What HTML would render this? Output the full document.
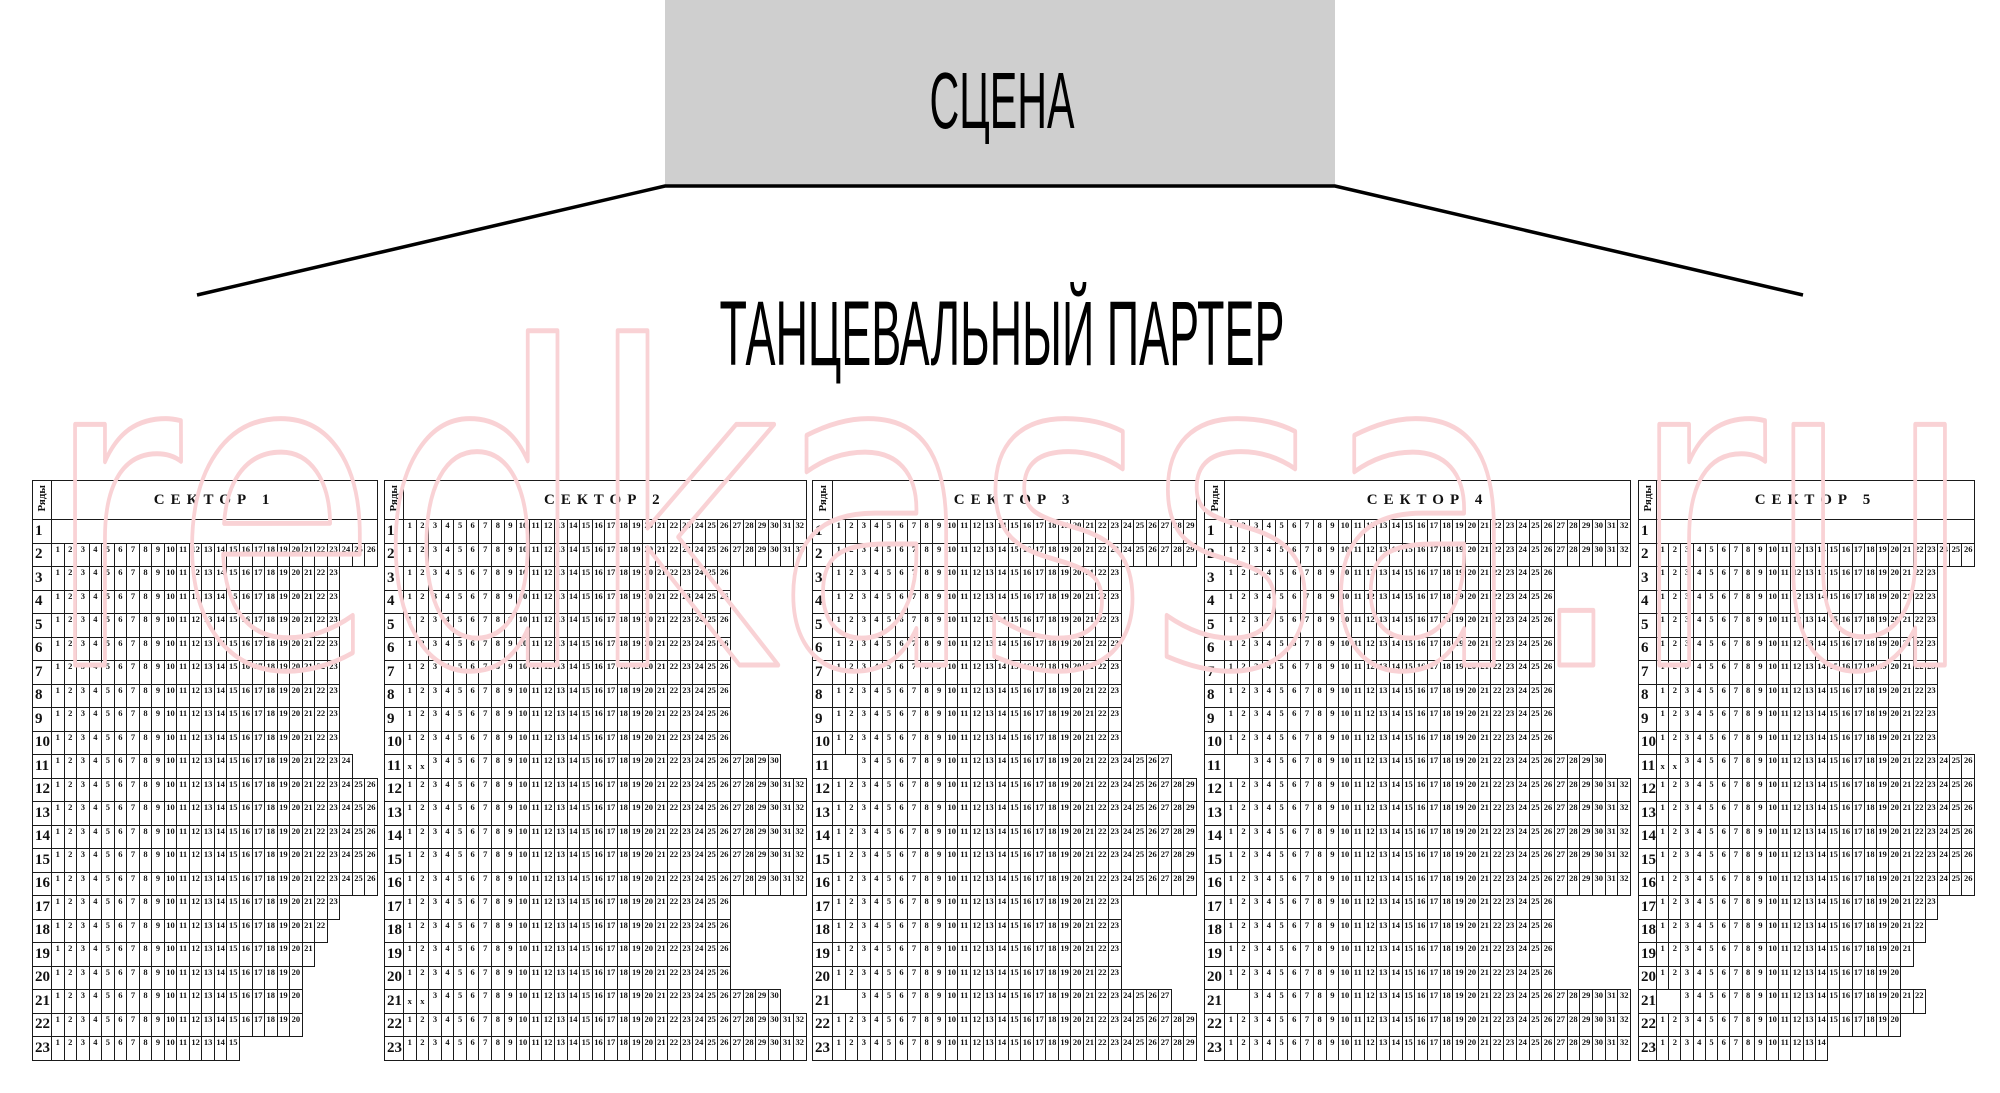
<!DOCTYPE html>
<html><head><meta charset="utf-8">
<style>
html,body{margin:0;padding:0;background:#fff;width:2000px;height:1093px;overflow:hidden;position:relative}
.s{position:absolute;top:480px}
table{border-collapse:collapse;table-layout:fixed;font-family:"Liberation Serif",serif}
td,th{border:1px solid #1a1a1a;padding:0;margin:0;overflow:hidden}
tr{height:23.5px}
tr.h{height:39px}
td{font-size:8.5px;font-weight:bold;text-align:center;vertical-align:top;line-height:10px;color:#111}
th{font-size:15px;font-weight:bold;text-align:left;padding-left:2px;vertical-align:middle;color:#111}
th.v{font-size:11px;font-weight:bold;padding:0;text-align:center}
th.v span{display:inline-block;writing-mode:vertical-rl;transform:rotate(180deg)}
th.t{text-align:center;font-size:15px;letter-spacing:6px;padding:0}
td.x{vertical-align:middle}
svg{position:absolute;left:0;top:0}
</style></head><body>
<svg width="2000" height="480" style="z-index:0">
<rect x="665" y="0" width="670" height="186" fill="#cfcfcf"/>
<polyline points="197,295 665,186 1335,186 1803,295" fill="none" stroke="#000" stroke-width="3.5"/>
<text x="1002" y="128" font-family="Liberation Sans Narrow, Liberation Sans, sans-serif" font-size="80" text-anchor="middle" textLength="145" lengthAdjust="spacingAndGlyphs">СЦЕНА</text>
<text x="1002" y="365" font-family="Liberation Sans Narrow, Liberation Sans, sans-serif" font-size="92" text-anchor="middle" textLength="565" lengthAdjust="spacingAndGlyphs">ТАНЦЕВАЛЬНЫЙ ПАРТЕР</text>
</svg>

<div class="s" style="left:32px"><table style="width:345px"><col style="width:19px"><col span="26" style="width:12.54px">
<tr class="h"><th class="v"><span>Ряды</span><th class="t" colspan="26">СЕКТОР 1
<tr><th>1<td colspan="26">
<tr><th>2<td>1<td>2<td>3<td>4<td>5<td>6<td>7<td>8<td>9<td>10<td>11<td>12<td>13<td>14<td>15<td>16<td>17<td>18<td>19<td>20<td>21<td>22<td>23<td>24<td>25<td>26
<tr><th>3<td>1<td>2<td>3<td>4<td>5<td>6<td>7<td>8<td>9<td>10<td>11<td>12<td>13<td>14<td>15<td>16<td>17<td>18<td>19<td>20<td>21<td>22<td>23
<tr><th>4<td>1<td>2<td>3<td>4<td>5<td>6<td>7<td>8<td>9<td>10<td>11<td>12<td>13<td>14<td>15<td>16<td>17<td>18<td>19<td>20<td>21<td>22<td>23
<tr><th>5<td>1<td>2<td>3<td>4<td>5<td>6<td>7<td>8<td>9<td>10<td>11<td>12<td>13<td>14<td>15<td>16<td>17<td>18<td>19<td>20<td>21<td>22<td>23
<tr><th>6<td>1<td>2<td>3<td>4<td>5<td>6<td>7<td>8<td>9<td>10<td>11<td>12<td>13<td>14<td>15<td>16<td>17<td>18<td>19<td>20<td>21<td>22<td>23
<tr><th>7<td>1<td>2<td>3<td>4<td>5<td>6<td>7<td>8<td>9<td>10<td>11<td>12<td>13<td>14<td>15<td>16<td>17<td>18<td>19<td>20<td>21<td>22<td>23
<tr><th>8<td>1<td>2<td>3<td>4<td>5<td>6<td>7<td>8<td>9<td>10<td>11<td>12<td>13<td>14<td>15<td>16<td>17<td>18<td>19<td>20<td>21<td>22<td>23
<tr><th>9<td>1<td>2<td>3<td>4<td>5<td>6<td>7<td>8<td>9<td>10<td>11<td>12<td>13<td>14<td>15<td>16<td>17<td>18<td>19<td>20<td>21<td>22<td>23
<tr><th>10<td>1<td>2<td>3<td>4<td>5<td>6<td>7<td>8<td>9<td>10<td>11<td>12<td>13<td>14<td>15<td>16<td>17<td>18<td>19<td>20<td>21<td>22<td>23
<tr><th>11<td>1<td>2<td>3<td>4<td>5<td>6<td>7<td>8<td>9<td>10<td>11<td>12<td>13<td>14<td>15<td>16<td>17<td>18<td>19<td>20<td>21<td>22<td>23<td>24
<tr><th>12<td>1<td>2<td>3<td>4<td>5<td>6<td>7<td>8<td>9<td>10<td>11<td>12<td>13<td>14<td>15<td>16<td>17<td>18<td>19<td>20<td>21<td>22<td>23<td>24<td>25<td>26
<tr><th>13<td>1<td>2<td>3<td>4<td>5<td>6<td>7<td>8<td>9<td>10<td>11<td>12<td>13<td>14<td>15<td>16<td>17<td>18<td>19<td>20<td>21<td>22<td>23<td>24<td>25<td>26
<tr><th>14<td>1<td>2<td>3<td>4<td>5<td>6<td>7<td>8<td>9<td>10<td>11<td>12<td>13<td>14<td>15<td>16<td>17<td>18<td>19<td>20<td>21<td>22<td>23<td>24<td>25<td>26
<tr><th>15<td>1<td>2<td>3<td>4<td>5<td>6<td>7<td>8<td>9<td>10<td>11<td>12<td>13<td>14<td>15<td>16<td>17<td>18<td>19<td>20<td>21<td>22<td>23<td>24<td>25<td>26
<tr><th>16<td>1<td>2<td>3<td>4<td>5<td>6<td>7<td>8<td>9<td>10<td>11<td>12<td>13<td>14<td>15<td>16<td>17<td>18<td>19<td>20<td>21<td>22<td>23<td>24<td>25<td>26
<tr><th>17<td>1<td>2<td>3<td>4<td>5<td>6<td>7<td>8<td>9<td>10<td>11<td>12<td>13<td>14<td>15<td>16<td>17<td>18<td>19<td>20<td>21<td>22<td>23
<tr><th>18<td>1<td>2<td>3<td>4<td>5<td>6<td>7<td>8<td>9<td>10<td>11<td>12<td>13<td>14<td>15<td>16<td>17<td>18<td>19<td>20<td>21<td>22
<tr><th>19<td>1<td>2<td>3<td>4<td>5<td>6<td>7<td>8<td>9<td>10<td>11<td>12<td>13<td>14<td>15<td>16<td>17<td>18<td>19<td>20<td>21
<tr><th>20<td>1<td>2<td>3<td>4<td>5<td>6<td>7<td>8<td>9<td>10<td>11<td>12<td>13<td>14<td>15<td>16<td>17<td>18<td>19<td>20
<tr><th>21<td>1<td>2<td>3<td>4<td>5<td>6<td>7<td>8<td>9<td>10<td>11<td>12<td>13<td>14<td>15<td>16<td>17<td>18<td>19<td>20
<tr><th>22<td>1<td>2<td>3<td>4<td>5<td>6<td>7<td>8<td>9<td>10<td>11<td>12<td>13<td>14<td>15<td>16<td>17<td>18<td>19<td>20
<tr><th>23<td>1<td>2<td>3<td>4<td>5<td>6<td>7<td>8<td>9<td>10<td>11<td>12<td>13<td>14<td>15
</table></div>

<div class="s" style="left:384px"><table style="width:422px"><col style="width:19px"><col span="32" style="width:12.59px">
<tr class="h"><th class="v"><span>Ряды</span><th class="t" colspan="32">СЕКТОР 2
<tr><th>1<td>1<td>2<td>3<td>4<td>5<td>6<td>7<td>8<td>9<td>10<td>11<td>12<td>13<td>14<td>15<td>16<td>17<td>18<td>19<td>20<td>21<td>22<td>23<td>24<td>25<td>26<td>27<td>28<td>29<td>30<td>31<td>32
<tr><th>2<td>1<td>2<td>3<td>4<td>5<td>6<td>7<td>8<td>9<td>10<td>11<td>12<td>13<td>14<td>15<td>16<td>17<td>18<td>19<td>20<td>21<td>22<td>23<td>24<td>25<td>26<td>27<td>28<td>29<td>30<td>31<td>32
<tr><th>3<td>1<td>2<td>3<td>4<td>5<td>6<td>7<td>8<td>9<td>10<td>11<td>12<td>13<td>14<td>15<td>16<td>17<td>18<td>19<td>20<td>21<td>22<td>23<td>24<td>25<td>26
<tr><th>4<td>1<td>2<td>3<td>4<td>5<td>6<td>7<td>8<td>9<td>10<td>11<td>12<td>13<td>14<td>15<td>16<td>17<td>18<td>19<td>20<td>21<td>22<td>23<td>24<td>25<td>26
<tr><th>5<td>1<td>2<td>3<td>4<td>5<td>6<td>7<td>8<td>9<td>10<td>11<td>12<td>13<td>14<td>15<td>16<td>17<td>18<td>19<td>20<td>21<td>22<td>23<td>24<td>25<td>26
<tr><th>6<td>1<td>2<td>3<td>4<td>5<td>6<td>7<td>8<td>9<td>10<td>11<td>12<td>13<td>14<td>15<td>16<td>17<td>18<td>19<td>20<td>21<td>22<td>23<td>24<td>25<td>26
<tr><th>7<td>1<td>2<td>3<td>4<td>5<td>6<td>7<td>8<td>9<td>10<td>11<td>12<td>13<td>14<td>15<td>16<td>17<td>18<td>19<td>20<td>21<td>22<td>23<td>24<td>25<td>26
<tr><th>8<td>1<td>2<td>3<td>4<td>5<td>6<td>7<td>8<td>9<td>10<td>11<td>12<td>13<td>14<td>15<td>16<td>17<td>18<td>19<td>20<td>21<td>22<td>23<td>24<td>25<td>26
<tr><th>9<td>1<td>2<td>3<td>4<td>5<td>6<td>7<td>8<td>9<td>10<td>11<td>12<td>13<td>14<td>15<td>16<td>17<td>18<td>19<td>20<td>21<td>22<td>23<td>24<td>25<td>26
<tr><th>10<td>1<td>2<td>3<td>4<td>5<td>6<td>7<td>8<td>9<td>10<td>11<td>12<td>13<td>14<td>15<td>16<td>17<td>18<td>19<td>20<td>21<td>22<td>23<td>24<td>25<td>26
<tr><th>11<td class="x">x<td class="x">x<td>3<td>4<td>5<td>6<td>7<td>8<td>9<td>10<td>11<td>12<td>13<td>14<td>15<td>16<td>17<td>18<td>19<td>20<td>21<td>22<td>23<td>24<td>25<td>26<td>27<td>28<td>29<td>30
<tr><th>12<td>1<td>2<td>3<td>4<td>5<td>6<td>7<td>8<td>9<td>10<td>11<td>12<td>13<td>14<td>15<td>16<td>17<td>18<td>19<td>20<td>21<td>22<td>23<td>24<td>25<td>26<td>27<td>28<td>29<td>30<td>31<td>32
<tr><th>13<td>1<td>2<td>3<td>4<td>5<td>6<td>7<td>8<td>9<td>10<td>11<td>12<td>13<td>14<td>15<td>16<td>17<td>18<td>19<td>20<td>21<td>22<td>23<td>24<td>25<td>26<td>27<td>28<td>29<td>30<td>31<td>32
<tr><th>14<td>1<td>2<td>3<td>4<td>5<td>6<td>7<td>8<td>9<td>10<td>11<td>12<td>13<td>14<td>15<td>16<td>17<td>18<td>19<td>20<td>21<td>22<td>23<td>24<td>25<td>26<td>27<td>28<td>29<td>30<td>31<td>32
<tr><th>15<td>1<td>2<td>3<td>4<td>5<td>6<td>7<td>8<td>9<td>10<td>11<td>12<td>13<td>14<td>15<td>16<td>17<td>18<td>19<td>20<td>21<td>22<td>23<td>24<td>25<td>26<td>27<td>28<td>29<td>30<td>31<td>32
<tr><th>16<td>1<td>2<td>3<td>4<td>5<td>6<td>7<td>8<td>9<td>10<td>11<td>12<td>13<td>14<td>15<td>16<td>17<td>18<td>19<td>20<td>21<td>22<td>23<td>24<td>25<td>26<td>27<td>28<td>29<td>30<td>31<td>32
<tr><th>17<td>1<td>2<td>3<td>4<td>5<td>6<td>7<td>8<td>9<td>10<td>11<td>12<td>13<td>14<td>15<td>16<td>17<td>18<td>19<td>20<td>21<td>22<td>23<td>24<td>25<td>26
<tr><th>18<td>1<td>2<td>3<td>4<td>5<td>6<td>7<td>8<td>9<td>10<td>11<td>12<td>13<td>14<td>15<td>16<td>17<td>18<td>19<td>20<td>21<td>22<td>23<td>24<td>25<td>26
<tr><th>19<td>1<td>2<td>3<td>4<td>5<td>6<td>7<td>8<td>9<td>10<td>11<td>12<td>13<td>14<td>15<td>16<td>17<td>18<td>19<td>20<td>21<td>22<td>23<td>24<td>25<td>26
<tr><th>20<td>1<td>2<td>3<td>4<td>5<td>6<td>7<td>8<td>9<td>10<td>11<td>12<td>13<td>14<td>15<td>16<td>17<td>18<td>19<td>20<td>21<td>22<td>23<td>24<td>25<td>26
<tr><th>21<td class="x">x<td class="x">x<td>3<td>4<td>5<td>6<td>7<td>8<td>9<td>10<td>11<td>12<td>13<td>14<td>15<td>16<td>17<td>18<td>19<td>20<td>21<td>22<td>23<td>24<td>25<td>26<td>27<td>28<td>29<td>30
<tr><th>22<td>1<td>2<td>3<td>4<td>5<td>6<td>7<td>8<td>9<td>10<td>11<td>12<td>13<td>14<td>15<td>16<td>17<td>18<td>19<td>20<td>21<td>22<td>23<td>24<td>25<td>26<td>27<td>28<td>29<td>30<td>31<td>32
<tr><th>23<td>1<td>2<td>3<td>4<td>5<td>6<td>7<td>8<td>9<td>10<td>11<td>12<td>13<td>14<td>15<td>16<td>17<td>18<td>19<td>20<td>21<td>22<td>23<td>24<td>25<td>26<td>27<td>28<td>29<td>30<td>31<td>32
</table></div>

<div class="s" style="left:812px"><table style="width:384px"><col style="width:20px"><col span="29" style="width:12.55px">
<tr class="h"><th class="v"><span>Ряды</span><th class="t" colspan="29">СЕКТОР 3
<tr><th>1<td>1<td>2<td>3<td>4<td>5<td>6<td>7<td>8<td>9<td>10<td>11<td>12<td>13<td>14<td>15<td>16<td>17<td>18<td>19<td>20<td>21<td>22<td>23<td>24<td>25<td>26<td>27<td>28<td>29
<tr><th>2<td>1<td>2<td>3<td>4<td>5<td>6<td>7<td>8<td>9<td>10<td>11<td>12<td>13<td>14<td>15<td>16<td>17<td>18<td>19<td>20<td>21<td>22<td>23<td>24<td>25<td>26<td>27<td>28<td>29
<tr><th>3<td>1<td>2<td>3<td>4<td>5<td>6<td>7<td>8<td>9<td>10<td>11<td>12<td>13<td>14<td>15<td>16<td>17<td>18<td>19<td>20<td>21<td>22<td>23
<tr><th>4<td>1<td>2<td>3<td>4<td>5<td>6<td>7<td>8<td>9<td>10<td>11<td>12<td>13<td>14<td>15<td>16<td>17<td>18<td>19<td>20<td>21<td>22<td>23
<tr><th>5<td>1<td>2<td>3<td>4<td>5<td>6<td>7<td>8<td>9<td>10<td>11<td>12<td>13<td>14<td>15<td>16<td>17<td>18<td>19<td>20<td>21<td>22<td>23
<tr><th>6<td>1<td>2<td>3<td>4<td>5<td>6<td>7<td>8<td>9<td>10<td>11<td>12<td>13<td>14<td>15<td>16<td>17<td>18<td>19<td>20<td>21<td>22<td>23
<tr><th>7<td>1<td>2<td>3<td>4<td>5<td>6<td>7<td>8<td>9<td>10<td>11<td>12<td>13<td>14<td>15<td>16<td>17<td>18<td>19<td>20<td>21<td>22<td>23
<tr><th>8<td>1<td>2<td>3<td>4<td>5<td>6<td>7<td>8<td>9<td>10<td>11<td>12<td>13<td>14<td>15<td>16<td>17<td>18<td>19<td>20<td>21<td>22<td>23
<tr><th>9<td>1<td>2<td>3<td>4<td>5<td>6<td>7<td>8<td>9<td>10<td>11<td>12<td>13<td>14<td>15<td>16<td>17<td>18<td>19<td>20<td>21<td>22<td>23
<tr><th>10<td>1<td>2<td>3<td>4<td>5<td>6<td>7<td>8<td>9<td>10<td>11<td>12<td>13<td>14<td>15<td>16<td>17<td>18<td>19<td>20<td>21<td>22<td>23
<tr><th>11<td colspan="2"><td>3<td>4<td>5<td>6<td>7<td>8<td>9<td>10<td>11<td>12<td>13<td>14<td>15<td>16<td>17<td>18<td>19<td>20<td>21<td>22<td>23<td>24<td>25<td>26<td>27
<tr><th>12<td>1<td>2<td>3<td>4<td>5<td>6<td>7<td>8<td>9<td>10<td>11<td>12<td>13<td>14<td>15<td>16<td>17<td>18<td>19<td>20<td>21<td>22<td>23<td>24<td>25<td>26<td>27<td>28<td>29
<tr><th>13<td>1<td>2<td>3<td>4<td>5<td>6<td>7<td>8<td>9<td>10<td>11<td>12<td>13<td>14<td>15<td>16<td>17<td>18<td>19<td>20<td>21<td>22<td>23<td>24<td>25<td>26<td>27<td>28<td>29
<tr><th>14<td>1<td>2<td>3<td>4<td>5<td>6<td>7<td>8<td>9<td>10<td>11<td>12<td>13<td>14<td>15<td>16<td>17<td>18<td>19<td>20<td>21<td>22<td>23<td>24<td>25<td>26<td>27<td>28<td>29
<tr><th>15<td>1<td>2<td>3<td>4<td>5<td>6<td>7<td>8<td>9<td>10<td>11<td>12<td>13<td>14<td>15<td>16<td>17<td>18<td>19<td>20<td>21<td>22<td>23<td>24<td>25<td>26<td>27<td>28<td>29
<tr><th>16<td>1<td>2<td>3<td>4<td>5<td>6<td>7<td>8<td>9<td>10<td>11<td>12<td>13<td>14<td>15<td>16<td>17<td>18<td>19<td>20<td>21<td>22<td>23<td>24<td>25<td>26<td>27<td>28<td>29
<tr><th>17<td>1<td>2<td>3<td>4<td>5<td>6<td>7<td>8<td>9<td>10<td>11<td>12<td>13<td>14<td>15<td>16<td>17<td>18<td>19<td>20<td>21<td>22<td>23
<tr><th>18<td>1<td>2<td>3<td>4<td>5<td>6<td>7<td>8<td>9<td>10<td>11<td>12<td>13<td>14<td>15<td>16<td>17<td>18<td>19<td>20<td>21<td>22<td>23
<tr><th>19<td>1<td>2<td>3<td>4<td>5<td>6<td>7<td>8<td>9<td>10<td>11<td>12<td>13<td>14<td>15<td>16<td>17<td>18<td>19<td>20<td>21<td>22<td>23
<tr><th>20<td>1<td>2<td>3<td>4<td>5<td>6<td>7<td>8<td>9<td>10<td>11<td>12<td>13<td>14<td>15<td>16<td>17<td>18<td>19<td>20<td>21<td>22<td>23
<tr><th>21<td colspan="2"><td>3<td>4<td>5<td>6<td>7<td>8<td>9<td>10<td>11<td>12<td>13<td>14<td>15<td>16<td>17<td>18<td>19<td>20<td>21<td>22<td>23<td>24<td>25<td>26<td>27
<tr><th>22<td>1<td>2<td>3<td>4<td>5<td>6<td>7<td>8<td>9<td>10<td>11<td>12<td>13<td>14<td>15<td>16<td>17<td>18<td>19<td>20<td>21<td>22<td>23<td>24<td>25<td>26<td>27<td>28<td>29
<tr><th>23<td>1<td>2<td>3<td>4<td>5<td>6<td>7<td>8<td>9<td>10<td>11<td>12<td>13<td>14<td>15<td>16<td>17<td>18<td>19<td>20<td>21<td>22<td>23<td>24<td>25<td>26<td>27<td>28<td>29
</table></div>

<div class="s" style="left:1204px"><table style="width:426px"><col style="width:20px"><col span="32" style="width:12.69px">
<tr class="h"><th class="v"><span>Ряды</span><th class="t" colspan="32">СЕКТОР 4
<tr><th>1<td>1<td>2<td>3<td>4<td>5<td>6<td>7<td>8<td>9<td>10<td>11<td>12<td>13<td>14<td>15<td>16<td>17<td>18<td>19<td>20<td>21<td>22<td>23<td>24<td>25<td>26<td>27<td>28<td>29<td>30<td>31<td>32
<tr><th>2<td>1<td>2<td>3<td>4<td>5<td>6<td>7<td>8<td>9<td>10<td>11<td>12<td>13<td>14<td>15<td>16<td>17<td>18<td>19<td>20<td>21<td>22<td>23<td>24<td>25<td>26<td>27<td>28<td>29<td>30<td>31<td>32
<tr><th>3<td>1<td>2<td>3<td>4<td>5<td>6<td>7<td>8<td>9<td>10<td>11<td>12<td>13<td>14<td>15<td>16<td>17<td>18<td>19<td>20<td>21<td>22<td>23<td>24<td>25<td>26
<tr><th>4<td>1<td>2<td>3<td>4<td>5<td>6<td>7<td>8<td>9<td>10<td>11<td>12<td>13<td>14<td>15<td>16<td>17<td>18<td>19<td>20<td>21<td>22<td>23<td>24<td>25<td>26
<tr><th>5<td>1<td>2<td>3<td>4<td>5<td>6<td>7<td>8<td>9<td>10<td>11<td>12<td>13<td>14<td>15<td>16<td>17<td>18<td>19<td>20<td>21<td>22<td>23<td>24<td>25<td>26
<tr><th>6<td>1<td>2<td>3<td>4<td>5<td>6<td>7<td>8<td>9<td>10<td>11<td>12<td>13<td>14<td>15<td>16<td>17<td>18<td>19<td>20<td>21<td>22<td>23<td>24<td>25<td>26
<tr><th>7<td>1<td>2<td>3<td>4<td>5<td>6<td>7<td>8<td>9<td>10<td>11<td>12<td>13<td>14<td>15<td>16<td>17<td>18<td>19<td>20<td>21<td>22<td>23<td>24<td>25<td>26
<tr><th>8<td>1<td>2<td>3<td>4<td>5<td>6<td>7<td>8<td>9<td>10<td>11<td>12<td>13<td>14<td>15<td>16<td>17<td>18<td>19<td>20<td>21<td>22<td>23<td>24<td>25<td>26
<tr><th>9<td>1<td>2<td>3<td>4<td>5<td>6<td>7<td>8<td>9<td>10<td>11<td>12<td>13<td>14<td>15<td>16<td>17<td>18<td>19<td>20<td>21<td>22<td>23<td>24<td>25<td>26
<tr><th>10<td>1<td>2<td>3<td>4<td>5<td>6<td>7<td>8<td>9<td>10<td>11<td>12<td>13<td>14<td>15<td>16<td>17<td>18<td>19<td>20<td>21<td>22<td>23<td>24<td>25<td>26
<tr><th>11<td colspan="2"><td>3<td>4<td>5<td>6<td>7<td>8<td>9<td>10<td>11<td>12<td>13<td>14<td>15<td>16<td>17<td>18<td>19<td>20<td>21<td>22<td>23<td>24<td>25<td>26<td>27<td>28<td>29<td>30
<tr><th>12<td>1<td>2<td>3<td>4<td>5<td>6<td>7<td>8<td>9<td>10<td>11<td>12<td>13<td>14<td>15<td>16<td>17<td>18<td>19<td>20<td>21<td>22<td>23<td>24<td>25<td>26<td>27<td>28<td>29<td>30<td>31<td>32
<tr><th>13<td>1<td>2<td>3<td>4<td>5<td>6<td>7<td>8<td>9<td>10<td>11<td>12<td>13<td>14<td>15<td>16<td>17<td>18<td>19<td>20<td>21<td>22<td>23<td>24<td>25<td>26<td>27<td>28<td>29<td>30<td>31<td>32
<tr><th>14<td>1<td>2<td>3<td>4<td>5<td>6<td>7<td>8<td>9<td>10<td>11<td>12<td>13<td>14<td>15<td>16<td>17<td>18<td>19<td>20<td>21<td>22<td>23<td>24<td>25<td>26<td>27<td>28<td>29<td>30<td>31<td>32
<tr><th>15<td>1<td>2<td>3<td>4<td>5<td>6<td>7<td>8<td>9<td>10<td>11<td>12<td>13<td>14<td>15<td>16<td>17<td>18<td>19<td>20<td>21<td>22<td>23<td>24<td>25<td>26<td>27<td>28<td>29<td>30<td>31<td>32
<tr><th>16<td>1<td>2<td>3<td>4<td>5<td>6<td>7<td>8<td>9<td>10<td>11<td>12<td>13<td>14<td>15<td>16<td>17<td>18<td>19<td>20<td>21<td>22<td>23<td>24<td>25<td>26<td>27<td>28<td>29<td>30<td>31<td>32
<tr><th>17<td>1<td>2<td>3<td>4<td>5<td>6<td>7<td>8<td>9<td>10<td>11<td>12<td>13<td>14<td>15<td>16<td>17<td>18<td>19<td>20<td>21<td>22<td>23<td>24<td>25<td>26
<tr><th>18<td>1<td>2<td>3<td>4<td>5<td>6<td>7<td>8<td>9<td>10<td>11<td>12<td>13<td>14<td>15<td>16<td>17<td>18<td>19<td>20<td>21<td>22<td>23<td>24<td>25<td>26
<tr><th>19<td>1<td>2<td>3<td>4<td>5<td>6<td>7<td>8<td>9<td>10<td>11<td>12<td>13<td>14<td>15<td>16<td>17<td>18<td>19<td>20<td>21<td>22<td>23<td>24<td>25<td>26
<tr><th>20<td>1<td>2<td>3<td>4<td>5<td>6<td>7<td>8<td>9<td>10<td>11<td>12<td>13<td>14<td>15<td>16<td>17<td>18<td>19<td>20<td>21<td>22<td>23<td>24<td>25<td>26
<tr><th>21<td colspan="2"><td>3<td>4<td>5<td>6<td>7<td>8<td>9<td>10<td>11<td>12<td>13<td>14<td>15<td>16<td>17<td>18<td>19<td>20<td>21<td>22<td>23<td>24<td>25<td>26<td>27<td>28<td>29<td>30<td>31<td>32
<tr><th>22<td>1<td>2<td>3<td>4<td>5<td>6<td>7<td>8<td>9<td>10<td>11<td>12<td>13<td>14<td>15<td>16<td>17<td>18<td>19<td>20<td>21<td>22<td>23<td>24<td>25<td>26<td>27<td>28<td>29<td>30<td>31<td>32
<tr><th>23<td>1<td>2<td>3<td>4<td>5<td>6<td>7<td>8<td>9<td>10<td>11<td>12<td>13<td>14<td>15<td>16<td>17<td>18<td>19<td>20<td>21<td>22<td>23<td>24<td>25<td>26<td>27<td>28<td>29<td>30<td>31<td>32
</table></div>

<div class="s" style="left:1638px"><table style="width:336px"><col style="width:18px"><col span="26" style="width:12.23px">
<tr class="h"><th class="v"><span>Ряды</span><th class="t" colspan="26">СЕКТОР 5
<tr><th>1<td colspan="26">
<tr><th>2<td>1<td>2<td>3<td>4<td>5<td>6<td>7<td>8<td>9<td>10<td>11<td>12<td>13<td>14<td>15<td>16<td>17<td>18<td>19<td>20<td>21<td>22<td>23<td>24<td>25<td>26
<tr><th>3<td>1<td>2<td>3<td>4<td>5<td>6<td>7<td>8<td>9<td>10<td>11<td>12<td>13<td>14<td>15<td>16<td>17<td>18<td>19<td>20<td>21<td>22<td>23
<tr><th>4<td>1<td>2<td>3<td>4<td>5<td>6<td>7<td>8<td>9<td>10<td>11<td>12<td>13<td>14<td>15<td>16<td>17<td>18<td>19<td>20<td>21<td>22<td>23
<tr><th>5<td>1<td>2<td>3<td>4<td>5<td>6<td>7<td>8<td>9<td>10<td>11<td>12<td>13<td>14<td>15<td>16<td>17<td>18<td>19<td>20<td>21<td>22<td>23
<tr><th>6<td>1<td>2<td>3<td>4<td>5<td>6<td>7<td>8<td>9<td>10<td>11<td>12<td>13<td>14<td>15<td>16<td>17<td>18<td>19<td>20<td>21<td>22<td>23
<tr><th>7<td>1<td>2<td>3<td>4<td>5<td>6<td>7<td>8<td>9<td>10<td>11<td>12<td>13<td>14<td>15<td>16<td>17<td>18<td>19<td>20<td>21<td>22<td>23
<tr><th>8<td>1<td>2<td>3<td>4<td>5<td>6<td>7<td>8<td>9<td>10<td>11<td>12<td>13<td>14<td>15<td>16<td>17<td>18<td>19<td>20<td>21<td>22<td>23
<tr><th>9<td>1<td>2<td>3<td>4<td>5<td>6<td>7<td>8<td>9<td>10<td>11<td>12<td>13<td>14<td>15<td>16<td>17<td>18<td>19<td>20<td>21<td>22<td>23
<tr><th>10<td>1<td>2<td>3<td>4<td>5<td>6<td>7<td>8<td>9<td>10<td>11<td>12<td>13<td>14<td>15<td>16<td>17<td>18<td>19<td>20<td>21<td>22<td>23
<tr><th>11<td class="x">x<td class="x">x<td>3<td>4<td>5<td>6<td>7<td>8<td>9<td>10<td>11<td>12<td>13<td>14<td>15<td>16<td>17<td>18<td>19<td>20<td>21<td>22<td>23<td>24<td>25<td>26
<tr><th>12<td>1<td>2<td>3<td>4<td>5<td>6<td>7<td>8<td>9<td>10<td>11<td>12<td>13<td>14<td>15<td>16<td>17<td>18<td>19<td>20<td>21<td>22<td>23<td>24<td>25<td>26
<tr><th>13<td>1<td>2<td>3<td>4<td>5<td>6<td>7<td>8<td>9<td>10<td>11<td>12<td>13<td>14<td>15<td>16<td>17<td>18<td>19<td>20<td>21<td>22<td>23<td>24<td>25<td>26
<tr><th>14<td>1<td>2<td>3<td>4<td>5<td>6<td>7<td>8<td>9<td>10<td>11<td>12<td>13<td>14<td>15<td>16<td>17<td>18<td>19<td>20<td>21<td>22<td>23<td>24<td>25<td>26
<tr><th>15<td>1<td>2<td>3<td>4<td>5<td>6<td>7<td>8<td>9<td>10<td>11<td>12<td>13<td>14<td>15<td>16<td>17<td>18<td>19<td>20<td>21<td>22<td>23<td>24<td>25<td>26
<tr><th>16<td>1<td>2<td>3<td>4<td>5<td>6<td>7<td>8<td>9<td>10<td>11<td>12<td>13<td>14<td>15<td>16<td>17<td>18<td>19<td>20<td>21<td>22<td>23<td>24<td>25<td>26
<tr><th>17<td>1<td>2<td>3<td>4<td>5<td>6<td>7<td>8<td>9<td>10<td>11<td>12<td>13<td>14<td>15<td>16<td>17<td>18<td>19<td>20<td>21<td>22<td>23
<tr><th>18<td>1<td>2<td>3<td>4<td>5<td>6<td>7<td>8<td>9<td>10<td>11<td>12<td>13<td>14<td>15<td>16<td>17<td>18<td>19<td>20<td>21<td>22
<tr><th>19<td>1<td>2<td>3<td>4<td>5<td>6<td>7<td>8<td>9<td>10<td>11<td>12<td>13<td>14<td>15<td>16<td>17<td>18<td>19<td>20<td>21
<tr><th>20<td>1<td>2<td>3<td>4<td>5<td>6<td>7<td>8<td>9<td>10<td>11<td>12<td>13<td>14<td>15<td>16<td>17<td>18<td>19<td>20
<tr><th>21<td colspan="2"><td>3<td>4<td>5<td>6<td>7<td>8<td>9<td>10<td>11<td>12<td>13<td>14<td>15<td>16<td>17<td>18<td>19<td>20<td>21<td>22
<tr><th>22<td>1<td>2<td>3<td>4<td>5<td>6<td>7<td>8<td>9<td>10<td>11<td>12<td>13<td>14<td>15<td>16<td>17<td>18<td>19<td>20
<tr><th>23<td>1<td>2<td>3<td>4<td>5<td>6<td>7<td>8<td>9<td>10<td>11<td>12<td>13<td>14
</table></div>

<svg width="2000" height="1093" style="z-index:5;pointer-events:none">
<text x="45" y="665" font-family="DejaVu Sans, Liberation Sans, sans-serif" font-size="440" fill="none" stroke="#f9d2d5" stroke-width="5" stroke-linejoin="round" textLength="1930" lengthAdjust="spacingAndGlyphs">redkassa.ru</text>
</svg>
</body></html>
